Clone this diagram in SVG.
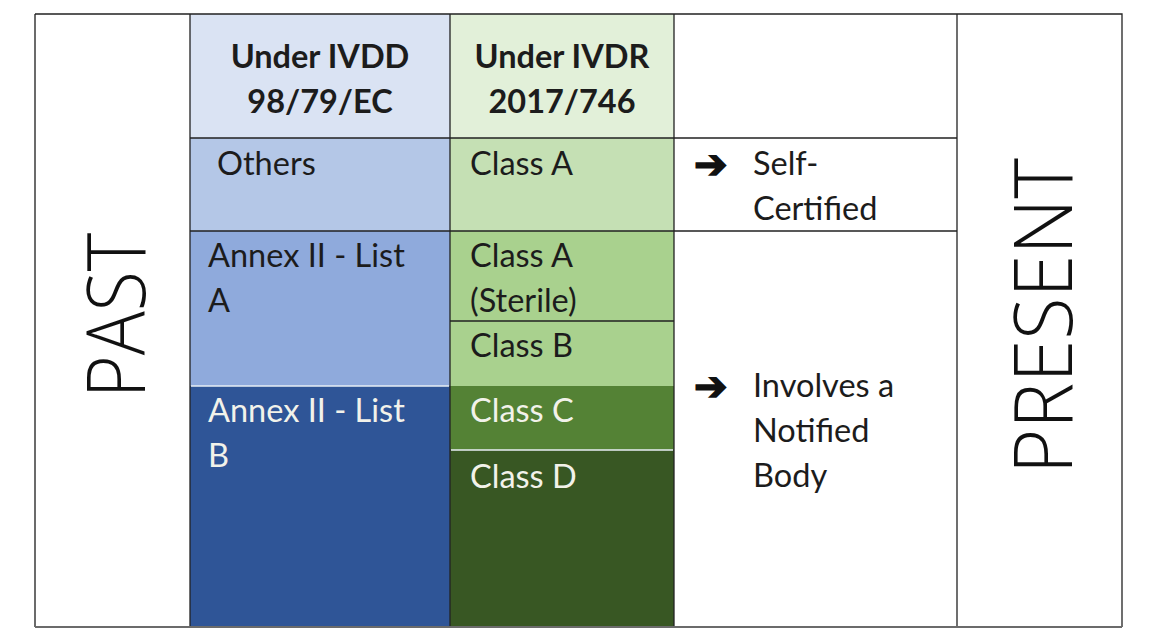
<svg xmlns="http://www.w3.org/2000/svg" width="1160" height="640" viewBox="0 0 1160 640">
<style>
.t{font-family:Lato,"Open Sans","Liberation Sans",sans-serif;font-size:32.5px;fill:#1c1c1c}
.w{fill:#f2f2ea}
.h{font-weight:bold;font-size:32.5px;text-anchor:middle}
.big{font-family:"Open Sans","Noto Sans","Liberation Sans",sans-serif;font-weight:300;font-size:82px;fill:#111}
.arr{font-family:"DejaVu Sans",sans-serif;font-size:40px;fill:#111;stroke:#111;stroke-width:1.6}
.dk{stroke:#222;stroke-width:1.3;fill:none}
.lt{stroke:#e8eef5;stroke-width:1.5;fill:none}
.gr{stroke:#6b6b6b;stroke-width:2;fill:none}
</style>
<rect width="1160" height="640" fill="#ffffff"/>
<g id="past">
<rect x="35" y="14" width="155" height="613" fill="#ffffff"/>
<text class="big" transform="translate(145,398) rotate(-90)" textLength="165" lengthAdjust="spacingAndGlyphs">PAST</text>
</g>
<g id="ivdd-header">
<rect x="190" y="14" width="260" height="124" fill="#dae3f3"/>
<text class="t h" x="320" y="68">Under IVDD</text>
<text class="t h" x="320" y="113">98/79/EC</text>
</g>
<g id="ivdr-header">
<rect x="450" y="14" width="224" height="124" fill="#e2f0d9"/>
<text class="t h" x="562" y="68">Under IVDR</text>
<text class="t h" x="562" y="113">2017/746</text>
</g>
<g id="others">
<rect x="190" y="138" width="260" height="93" fill="#b4c7e7"/>
<text class="t" x="217" y="175">Others</text>
</g>
<g id="class-a">
<rect x="450" y="138" width="224" height="93" fill="#c5e0b4"/>
<text class="t" x="470" y="175">Class A</text>
</g>
<g id="self-certified">
<text class="arr" x="694" y="178">➔</text>
<text class="t" x="753" y="175">Self-</text>
<text class="t" x="753" y="220">Certified</text>
</g>
<g id="annex-a">
<rect x="190" y="231" width="260" height="155" fill="#8faadc"/>
<text class="t" x="208" y="267">Annex II - List</text>
<text class="t" x="208" y="312">A</text>
</g>
<g id="class-a-sterile">
<rect x="450" y="231" width="224" height="90" fill="#a9d18e"/>
<text class="t" x="470" y="267">Class A</text>
<text class="t" x="470" y="312">(Sterile)</text>
</g>
<g id="class-b">
<rect x="450" y="321" width="224" height="65" fill="#a9d18e"/>
<text class="t" x="470" y="357">Class B</text>
</g>
<g id="annex-b">
<rect x="190" y="386" width="260" height="241" fill="#2f5597"/>
<text class="t w" x="208" y="422">Annex II - List</text>
<text class="t w" x="208" y="467">B</text>
</g>
<g id="class-c">
<rect x="450" y="386" width="224" height="64" fill="#548235"/>
<text class="t w" x="470" y="422">Class C</text>
</g>
<g id="class-d">
<rect x="450" y="450" width="224" height="177" fill="#385723"/>
<text class="t w" x="470" y="488">Class D</text>
</g>
<g id="notified-body">
<text class="arr" x="694" y="400">➔</text>
<text class="t" x="753" y="397">Involves a</text>
<text class="t" x="753" y="442">Notified</text>
<text class="t" x="753" y="487">Body</text>
</g>
<g id="present">
<text class="big" transform="translate(1072,474) rotate(-90)" textLength="316" lengthAdjust="spacingAndGlyphs">PRESENT</text>
</g>
<g id="grid">
<path class="gr" d="M35 14V627"/>
<path class="dk" d="M35 14H1122V627M190 14V627M450 14V627M674 14V627M957 14V627"/>
<path class="dk" d="M190 138H957M190 231H957M450 321H674"/>
<path class="lt" d="M191 386H449M451 450H673"/>
<path class="gr" d="M35 627H1122"/>
</g>
</svg>
